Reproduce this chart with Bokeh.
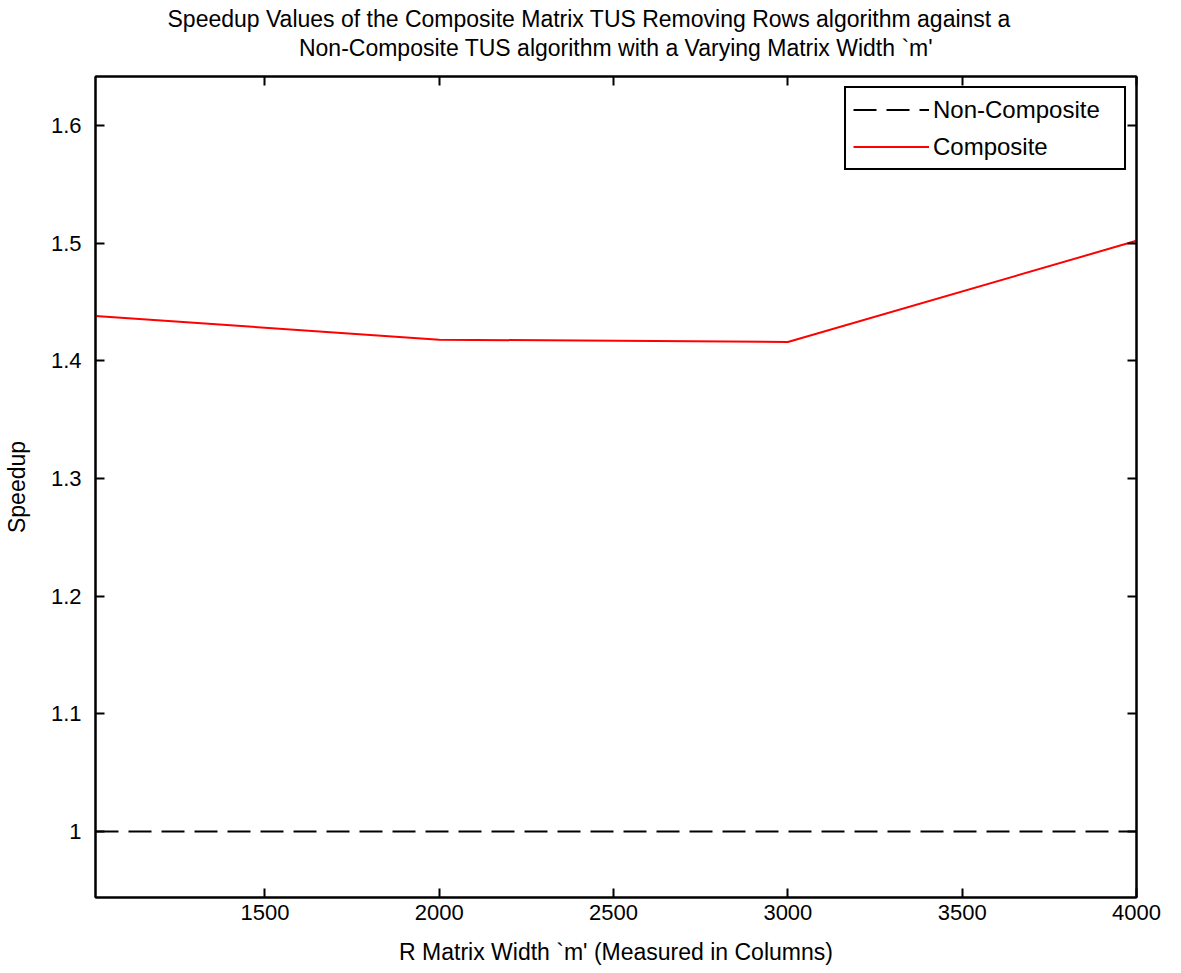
from bokeh.plotting import figure
from bokeh.models import (Range1d, LinearAxis, FixedTicker, Title, Legend, LegendItem,
                          CustomJSTickFormatter)
from bokeh.embed import file_html
from bokeh.resources import INLINE

# ---- data ----
matrix_width = [1014, 2000, 3000, 4000]
composite_speedup = [1.438, 1.418, 1.416, 1.502]
noncomposite_speedup = [1.0, 1.0, 1.0, 1.0]
x_ticks = [1500, 2000, 2500, 3000, 3500, 4000]
y_ticks = [1.0, 1.1, 1.2, 1.3, 1.4, 1.5, 1.6]

title_line1 = "Speedup Values of the Composite Matrix TUS Removing Rows algorithm against a"
title_line2 = "Non-Composite TUS algorithm with a Varying Matrix Width `m'"
x_label = "R Matrix Width `m' (Measured in Columns)"
y_label = "Speedup"

FONT = "Liberation Sans"

p = figure(width=1181, height=973, output_backend="svg", toolbar_location=None,
           x_range=Range1d(1014, 4000), y_range=Range1d(0.944, 1.6416),
           title_location=None,
           min_border_left=94, min_border_right=45, min_border_top=76, min_border_bottom=76)
p.background_fill_color = "white"
p.border_fill_color = "white"
p.outline_line_color = "black"
p.outline_line_width = 2
p.xgrid.visible = False
p.ygrid.visible = False

fmt = CustomJSTickFormatter(code="return String(Math.round(tick*10)/10);")

def style_axis(ax, ticks, show_labels=True):
    ax.axis_line_color = "black"
    ax.axis_line_width = 2
    ax.major_tick_in = 9
    ax.major_tick_out = 0
    ax.major_tick_line_width = 2
    ax.minor_tick_line_color = None
    ax.major_label_text_font = FONT
    ax.major_label_text_font_size = "22px"
    ax.major_label_text_color = "black"
    if not show_labels:
        ax.major_label_overrides = {t: "" for t in ticks}
        ax.major_label_standoff = 0

xa = p.xaxis[0]
xa.ticker = FixedTicker(ticks=x_ticks)
style_axis(xa, x_ticks)
xa.major_label_standoff = 7
xa.axis_label = x_label
xa.axis_label_text_font = FONT
xa.axis_label_text_font_size = "23px"
xa.axis_label_text_font_style = "normal"
xa.axis_label_text_color = "black"
xa.axis_label_standoff = 16

ya = p.yaxis[0]
ya.ticker = FixedTicker(ticks=y_ticks)
ya.formatter = fmt
style_axis(ya, y_ticks)
ya.major_label_standoff = 14
ya.axis_label = y_label
ya.axis_label_text_font = FONT
ya.axis_label_text_font_size = "23px"
ya.axis_label_text_font_style = "normal"
ya.axis_label_text_color = "black"
ya.axis_label_standoff = 18

# top axis: inward ticks, and the second title line as its label
top_ax = LinearAxis(ticker=FixedTicker(ticks=x_ticks))
style_axis(top_ax, x_ticks, False)
top_ax.axis_label = title_line2
top_ax.axis_label_text_font = FONT
top_ax.axis_label_text_font_size = "23px"
top_ax.axis_label_text_font_style = "normal"
top_ax.axis_label_text_color = "black"
top_ax.axis_label_standoff = 16
p.add_layout(top_ax, "above")

right_ax = LinearAxis(ticker=FixedTicker(ticks=y_ticks))
style_axis(right_ax, y_ticks, False)
p.add_layout(right_ax, "right")

p.add_layout(Title(text=title_line1, align="left", text_font=FONT, text_font_size="23px",
                   text_font_style="normal", text_color="black", offset=72, standoff=0),
             "above")

r_nc = p.line(matrix_width, noncomposite_speedup, line_color="black", line_width=2,
              line_dash="23 10")
r_c = p.line(matrix_width, composite_speedup, line_color="red", line_width=2)

legend = Legend(items=[LegendItem(label="Non-Composite", renderers=[r_nc]),
                       LegendItem(label="Composite", renderers=[r_c])],
                location="top_right")
legend.label_text_font = FONT
legend.label_text_font_size = "24px"
legend.label_text_color = "black"
legend.glyph_width = 76
legend.glyph_height = 29
legend.label_width = 184
legend.spacing = 8
legend.padding = 7
legend.margin = 10
legend.label_standoff = 4
legend.border_line_color = "black"
legend.border_line_alpha = 1
legend.border_line_width = 2
legend.background_fill_alpha = 1
p.add_layout(legend)

open("out.html", "w").write(file_html(p, INLINE))
